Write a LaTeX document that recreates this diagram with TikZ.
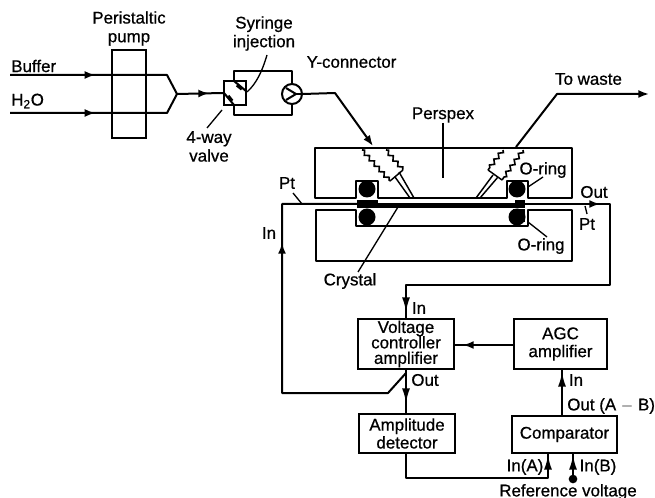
\documentclass[tikz,border=0pt]{standalone}
\usepackage{fontspec}
\setmainfont{Liberation Sans}[FakeBold=0.7]
\usetikzlibrary{arrows.meta,decorations.pathmorphing,decorations.markings}
\newcommand\nogap{\lineskiplimit=-10pt\relax}
\tikzset{
  x=.75pt,y=-.75pt,
  wire/.style={line width=1.5pt,line join=round},
  thin wire/.style={line width=1pt},
  tip/.style={-{Latex[length=8pt,width=6pt]}},
  longtip/.style={-{Latex[length=11pt,width=6pt]}},
  midtip/.style={postaction={decorate},decoration={markings,mark=at position #1 with {\arrow{Latex[length=8pt,width=6pt]}}}},
  block/.style={draw,line width=1.5pt,inner sep=0pt,align=center,font=\fontsize{12.7}{13.4}\selectfont\nogap},
  tight/.style={font=\fontsize{12.7}{11.6}\selectfont\nogap},
  lbl/.style={inner sep=0pt,align=center,font=\fontsize{12.7}{14}\selectfont\nogap},
  zz/.style={line width=1.2pt,decorate,decoration={zigzag,segment length=5.5pt,amplitude=1.4pt}},
  fine/.style={line width=1.1pt},
}
\begin{document}
\begin{tikzpicture}
\useasboundingbox (0,0) rectangle (655,498);
% top flow
\node[block,minimum width=25.5pt,minimum height=66pt] (pump) at (129,94) {};
\node[block,minimum width=16.5pt,minimum height=18pt] (valve) at (235,93) {};
\node[draw,circle,line width=1.5pt,minimum size=15pt,inner sep=0pt] (det) at (292,94) {};
\coordinate (bufS) at (10,75); \coordinate (bufE) at (167,75);
\coordinate (watS) at (10,113); \coordinate (watE) at (167,113);
\coordinate (join) at (177,94);
\draw[wire,midtip=64pt] (bufS) -- (bufE) -- (join);
\draw[wire,midtip=64pt] (watS) -- (watE) -- (join);
\draw[wire,midtip=24pt] (join) -- (valve.west);
\draw[wire] (234,81) -- (234,71) -- (292,71) -- (det.north);
\draw[wire] (234,105) -- (234,115) -- (292,115) -- (det.south);
% valve inside
\draw[wire] (234,81) -- (246,91);
\draw[wire] (224,93) -- (234,105);
\draw[line width=2.6pt] (237,85) -- (242,89);
\draw[line width=2.6pt] (228,96) -- (232,101);
% detector inside
\draw[wire] (286,88) -- (296,94) -- (286,100);
\draw[wire] (296,94) -- (det.east);
% inlet, waste
\coordinate (bendIn) at (335,93); \coordinate (portIn) at (373,146);
\draw[wire,tip] (det.east) -- (bendIn) -- (portIn);
\coordinate (portOut) at (516,147); \coordinate (bendOut) at (557,94); \coordinate (wasteE) at (649,94);
\draw[wire,tip] (portOut) -- (bendOut) -- (wasteE);
% perspex blocks
\draw[wire] (315,148) -- (572,148) -- (572,198) -- (528,198) -- (528,181) -- (507,181) -- (507,198) -- (378,198) -- (378,181) -- (356,181) -- (356,198) -- (315,198) -- cycle;
\draw[wire] (316,210) -- (356,210) -- (356,226) -- (528,226) -- (528,210) -- (572,210) -- (572,261) -- (316,261) -- cycle;
% O-rings
\fill (367,189) circle (8.5);
\fill (367,217) circle (8.5);
\fill (517,189) circle (8.5);
\fill (517,217) circle (8.5);
\fill (513,209) rectangle (525,222);
% crystal
\fill (357,200) rectangle (378,208);
\fill (357,203) rectangle (525,208);
\fill (515,200) rectangle (525,208);
% ports
\draw[zz] (362,150) -- (390,181);
\draw[zz] (386,150) -- (403,170);
\draw[fine] (390,181) -- (403,170);
\draw[fine] (395,177) -- (410,198) (399,172) -- (414,198);
\draw[zz] (503,150) -- (488,170);
\draw[zz] (523,150) -- (502,180);
\draw[fine] (488,170) -- (502,180);
\draw[fine] (493,175) -- (476,198) (498,177) -- (480,198);
% electrical blocks
\node[block,tight,minimum width=72pt,minimum height=37.5pt] (vca) at (406,344) {Voltage\\controller\\amplifier};
\node[block,minimum width=69.75pt,minimum height=37.5pt] (agc) at (560.5,344) {AGC\\amplifier};
\node[block,minimum width=72pt,minimum height=29.25pt] (ad) at (407,433.5) {Amplitude\\detector};
\node[block,minimum width=78.75pt,minimum height=27.75pt] (comp) at (564.5,434.5) {Comparator};
% Pt circuit
\coordinate (ptL) at (358,204); \coordinate (ptLc) at (282,204); \coordinate (fbC) at (282,393); \coordinate (fbD) at (388,393); \coordinate (fbT) at (406,373);
\draw[wire] (ptL) -- (ptLc) -- (fbC) -- (fbD) -- (fbT);
\draw[wire,tip] (282,265) -- (282,243);
\coordinate (ptR) at (525,204); \coordinate (ptRc) at (610,204); \coordinate (a1) at (610,285); \coordinate (a2) at (406,285);
\draw[wire] (ptR) -- (ptRc) -- (a1) -- (a2) -- (vca.north -| a2);
\draw[wire,longtip] (406,290) -- (406,312);
\draw[wire,tip] (580,204) -- (600,204);
\draw[wire] (agc.west |- 0,345) -- (vca.east |- 0,345);
\draw[wire,tip] (490,345) -- (463,345);
\draw[wire] (406,369) -- (406,414);
\draw[wire,longtip] (406,380) -- (406,403);
\draw[wire] (562,416) -- (562,369);
\draw[wire,longtip] (562,395) -- (562,372);
\coordinate (l1) at (406,478); \coordinate (l2) at (548,478);
\draw[wire] (406,453) -- (l1) -- (l2) -- (548,453);
\draw[wire,longtip] (548,476) -- (548,455);
\node[fill,circle,minimum size=6.5pt,inner sep=0pt] (ref) at (573,479) {};
\draw[wire] (ref) -- (573,453);
\draw[wire,longtip] (573,476) -- (573,455);
% text
\node[lbl,anchor=west] (tb) at (11,66) {Buffer};
\node[lbl,anchor=west] (th) at (11,101) {H\textsubscript{2}O};
\node[lbl] (tp) at (129,28.5) {Peristaltic\\pump};
\node[lbl] (ts) at (264,33.5) {Syringe\\injection};
\node[lbl] (tv) at (209,146.5) {4-way\\valve};
\node[lbl] (ty) at (351.5,62) {Y-connector};
\node[lbl] (tw) at (588.5,79) {To waste};
\node[lbl] (tpx) at (443,115) {Perspex};
\node[lbl] (to1) at (543,170) {O-ring};
\node[lbl] (to2) at (541,246) {O-ring};
\node[lbl] (tou) at (594,192) {Out};
\node[lbl] (tpr) at (587,224) {Pt};
\node[lbl] (tpl) at (287,183) {Pt};
\node[lbl] (tc) at (350,281) {Crystal};
\node[lbl] (ti1) at (269,233) {In};
\node[lbl] (ti2) at (419,308) {In};
\node[lbl] (to3) at (425,380) {Out};
\node[lbl] (ti3) at (576,380) {In};
\node[lbl,anchor=west] (tab) at (567,406) {Out (A $-$ B)};
\node[lbl] (tia) at (525,467) {In(A)};
\node[lbl] (tib) at (598,467) {In(B)};
\node[lbl] (trv) at (568,492) {Reference voltage};
% leaders
\draw[thin wire] (tpx.south) -- (443,178);
\draw[thin wire] (267,55) .. controls (262,72) and (256,84) .. (247,92);
\draw[thin wire] (207,128) -- (222,110);
\draw[thin wire] (528,187) -- (543,177);
\draw[thin wire] (528,222) -- (547,237);
\draw[thin wire] (398,207) -- (358,272);
\draw[thin wire] (585,206) -- (587,214);
\draw[thin wire] (293,193) -- (302,204);
\end{tikzpicture}
\end{document}
